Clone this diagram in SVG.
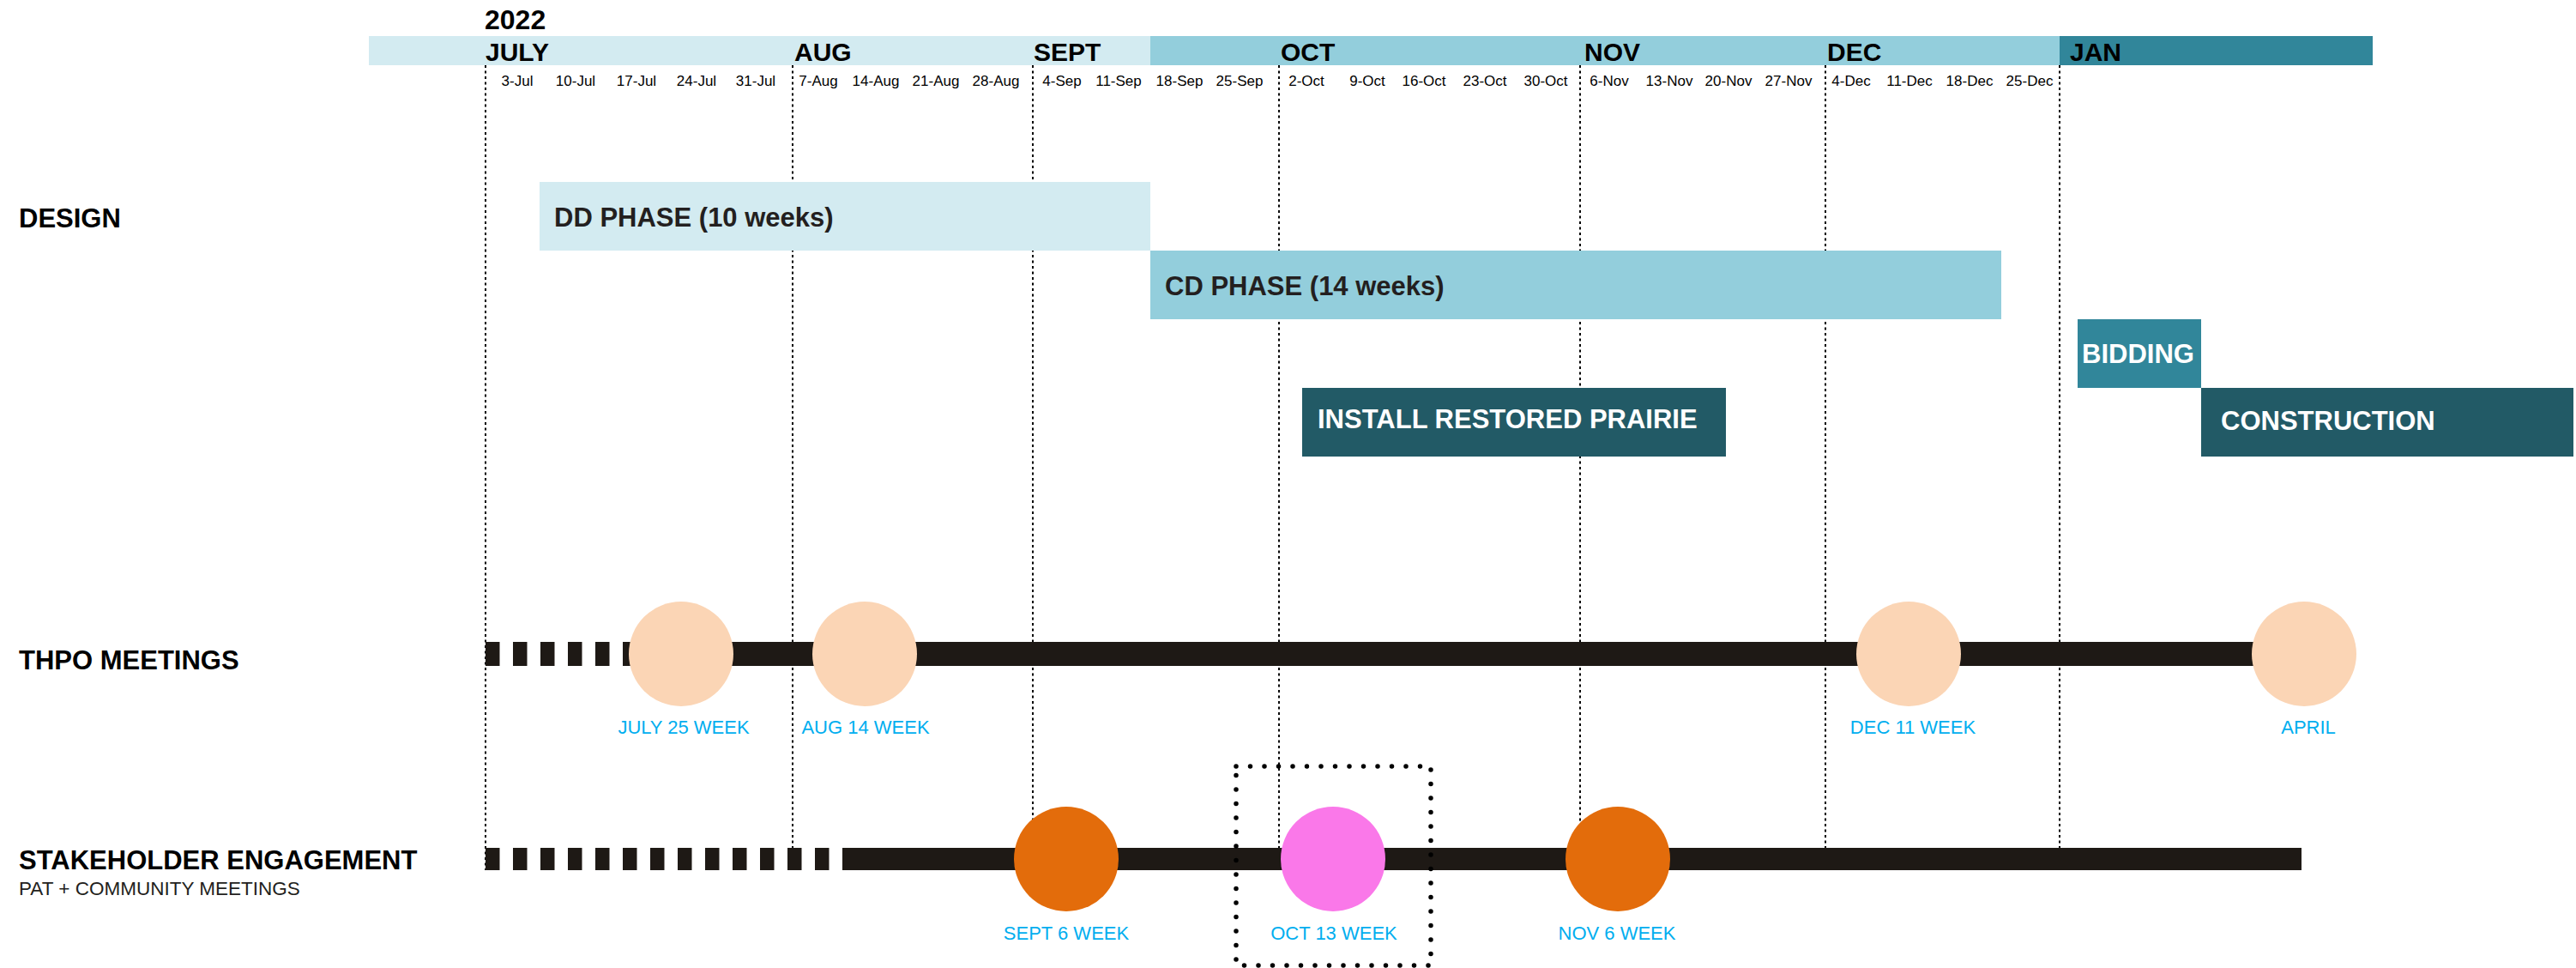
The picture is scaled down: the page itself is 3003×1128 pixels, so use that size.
<svg xmlns="http://www.w3.org/2000/svg" width="3003" height="1128" viewBox="0 0 3003 1128">
<style>
text{font-family:"Liberation Sans",Arial,sans-serif}
.b{font-weight:bold}
.mon{font-weight:bold;font-size:30px;fill:#000}
.wk{font-size:17px;fill:#000;text-anchor:middle}
.lbl{font-weight:bold;font-size:31px;fill:#000}
.bar{font-weight:bold;font-size:31px}
.dk{fill:#231f20}
.wh{fill:#fff}
.cap{font-size:22px;fill:#00aeef;text-anchor:middle}
.vl{stroke:#000;stroke-width:2;stroke-dasharray:3 3.5;fill:none}
.track{stroke:#1e1915;fill:none}
.thpo{fill:#fbd5b5}
.org{fill:#e36c0b}
.pink{fill:#fa78e9}
</style>
<rect width="3003" height="1128" fill="#fff"/>

<g id="header">
  <rect x="430" y="42" width="911" height="34" fill="#d3ebf1"/>
  <rect x="1341" y="42" width="1060" height="34" fill="#93cedc"/>
  <rect x="2401" y="42" width="365" height="34" fill="#31869a"/>
  <text class="b" x="565" y="34" font-size="32" fill="#000">2022</text>
  <text class="mon" x="566" y="71">JULY</text>
  <text class="mon" x="926" y="71">AUG</text>
  <text class="mon" x="1205" y="71">SEPT</text>
  <text class="mon" x="1493" y="71">OCT</text>
  <text class="mon" x="1847" y="71">NOV</text>
  <text class="mon" x="2130" y="71">DEC</text>
  <text class="mon" x="2413" y="71">JAN</text>
  <g id="weeks">
    <text class="wk" x="603" y="100">3-Jul</text>
    <text class="wk" x="671" y="100">10-Jul</text>
    <text class="wk" x="742" y="100">17-Jul</text>
    <text class="wk" x="812" y="100">24-Jul</text>
    <text class="wk" x="881" y="100">31-Jul</text>
    <text class="wk" x="954" y="100">7-Aug</text>
    <text class="wk" x="1021" y="100">14-Aug</text>
    <text class="wk" x="1091" y="100">21-Aug</text>
    <text class="wk" x="1161" y="100">28-Aug</text>
    <text class="wk" x="1238" y="100">4-Sep</text>
    <text class="wk" x="1304" y="100">11-Sep</text>
    <text class="wk" x="1375" y="100">18-Sep</text>
    <text class="wk" x="1445" y="100">25-Sep</text>
    <text class="wk" x="1523" y="100">2-Oct</text>
    <text class="wk" x="1594" y="100">9-Oct</text>
    <text class="wk" x="1660" y="100">16-Oct</text>
    <text class="wk" x="1731" y="100">23-Oct</text>
    <text class="wk" x="1802" y="100">30-Oct</text>
    <text class="wk" x="1876" y="100">6-Nov</text>
    <text class="wk" x="1946" y="100">13-Nov</text>
    <text class="wk" x="2015" y="100">20-Nov</text>
    <text class="wk" x="2085" y="100">27-Nov</text>
    <text class="wk" x="2158" y="100">4-Dec</text>
    <text class="wk" x="2226" y="100">11-Dec</text>
    <text class="wk" x="2296" y="100">18-Dec</text>
    <text class="wk" x="2366" y="100">25-Dec</text>
  </g>
</g>

<g id="gridlines">
  <line class="vl" x1="566" y1="76" x2="566" y2="1014"/>
  <line class="vl" x1="924" y1="76" x2="924" y2="1014"/>
  <line class="vl" x1="1204" y1="76" x2="1204" y2="1014"/>
  <line class="vl" x1="1491" y1="76" x2="1491" y2="1014"/>
  <line class="vl" x1="1842" y1="76" x2="1842" y2="1014"/>
  <line class="vl" x1="2128" y1="76" x2="2128" y2="1014"/>
  <line class="vl" x1="2401" y1="76" x2="2401" y2="1014"/>
</g>

<g id="row-labels">
  <text class="lbl" x="22" y="265">DESIGN</text>
  <text class="lbl" x="22" y="780">THPO MEETINGS</text>
  <text class="lbl" x="22" y="1013">STAKEHOLDER ENGAGEMENT</text>
  <text x="22" y="1043" font-size="22.5" fill="#231f20">PAT + COMMUNITY MEETINGS</text>
</g>

<g id="dd-phase">
  <rect x="629" y="212" width="712" height="80" fill="#d3ebf1"/>
  <text class="bar dk" x="646" y="264">DD PHASE (10 weeks)</text>
</g>
<g id="cd-phase">
  <rect x="1341" y="292" width="992" height="80" fill="#93cedc"/>
  <text class="bar dk" x="1358" y="344">CD PHASE (14 weeks)</text>
</g>
<g id="bidding">
  <rect x="2422" y="372" width="144" height="80" fill="#31869a"/>
  <text class="bar wh" x="2427" y="423">BIDDING</text>
</g>
<g id="install-prairie">
  <rect x="1518" y="452" width="494" height="80" fill="#225a66"/>
  <text class="bar wh" x="1536" y="499">INSTALL RESTORED PRAIRIE</text>
</g>
<g id="construction">
  <rect x="2566" y="452" width="434" height="80" fill="#225a66"/>
  <text class="bar wh" x="2589" y="501">CONSTRUCTION</text>
</g>

<g id="connectors">
  <line class="track" x1="566" y1="762" x2="745" y2="762" stroke-width="28" stroke-dasharray="16.5 15.5"/>
  <line class="track" x1="745" y1="762" x2="2686" y2="762" stroke-width="28"/>
  <line class="track" x1="566" y1="1001" x2="982" y2="1001" stroke-width="26" stroke-dasharray="16.5 15.5"/>
  <line class="track" x1="982" y1="1001" x2="2683" y2="1001" stroke-width="26"/>
</g>

<g id="thpo-jul25">
  <circle class="thpo" cx="794" cy="762" r="61"/>
  <text class="cap" x="797" y="855">JULY 25 WEEK</text>
</g>
<g id="thpo-aug14">
  <circle class="thpo" cx="1008" cy="762" r="61"/>
  <text class="cap" x="1009" y="855">AUG 14 WEEK</text>
</g>
<g id="thpo-dec11">
  <circle class="thpo" cx="2225" cy="762" r="61"/>
  <text class="cap" x="2230" y="855">DEC 11 WEEK</text>
</g>
<g id="thpo-april">
  <circle class="thpo" cx="2686" cy="762" r="61"/>
  <text class="cap" x="2691" y="855">APRIL</text>
</g>

<g id="sh-sept6">
  <circle class="org" cx="1243" cy="1001" r="61"/>
  <text class="cap" x="1243" y="1095">SEPT 6 WEEK</text>
</g>
<g id="sh-oct13">
  <rect x="1441" y="893" width="227" height="232" fill="none" stroke="#000" stroke-width="5.5" stroke-linecap="round" stroke-dasharray="0 16.5"/>
  <circle class="pink" cx="1554" cy="1001" r="61"/>
  <text class="cap" x="1555" y="1095">OCT 13 WEEK</text>
</g>
<g id="sh-nov6">
  <circle class="org" cx="1886" cy="1001" r="61"/>
  <text class="cap" x="1885" y="1095">NOV 6 WEEK</text>
</g>
</svg>
